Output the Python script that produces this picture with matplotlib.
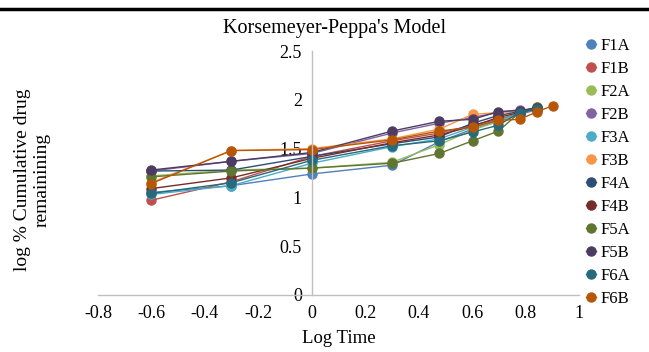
import matplotlib
matplotlib.use("Agg")
import matplotlib.pyplot as plt
from matplotlib.lines import Line2D

plt.rcParams['font.family'] = ['Liberation Serif', 'DejaVu Serif']

# -------------------------------------------------
# Data (log time vs log % cumulative drug remaining)
# -------------------------------------------------
log_time = [-0.602, -0.301, 0.0, 0.301, 0.477, 0.602, 0.699, 0.778, 0.845, 0.903]

series_names = ["F1A", "F1B", "F2A", "F2B", "F3A", "F3B",
                "F4A", "F4B", "F5A", "F5B", "F6A", "F6B"]

f1a = [1.05, 1.12, 1.24, 1.33, 1.57, 1.70, 1.78, 1.85, 1.90]
f1b = [0.97, 1.16, 1.42, 1.58, 1.66, 1.74, 1.80, 1.86, 1.91]
f2a = [1.22, 1.28, 1.30, 1.36, 1.54, 1.69, 1.78, 1.86, 1.93]
f2b = [1.27, 1.37, 1.45, 1.66, 1.76, 1.82, 1.87, 1.90]
f3a = [1.03, 1.12, 1.35, 1.52, 1.60, 1.72, 1.79, 1.86, 1.91]
f3b = [1.15, 1.48, 1.50, 1.60, 1.70, 1.85, 1.87, 1.88, 1.92]
f4a = [1.27, 1.28, 1.42, 1.55, 1.62, 1.76, 1.84, 1.88, 1.92]
f4b = [1.09, 1.20, 1.40, 1.56, 1.64, 1.73, 1.82, 1.87, 1.91]
f5a = [1.21, 1.27, 1.30, 1.35, 1.45, 1.58, 1.68, 1.87, 1.93]
f5b = [1.28, 1.37, 1.46, 1.68, 1.78, 1.80, 1.88, 1.89, 1.92]
f6a = [1.04, 1.15, 1.38, 1.53, 1.58, 1.67, 1.74, 1.87, 1.91]
f6b = [1.14, 1.48, 1.49, 1.59, 1.68, 1.72, 1.79, 1.80, 1.88, 1.94]

all_series = [f1a, f1b, f2a, f2b, f3a, f3b, f4a, f4b, f5a, f5b, f6a, f6b]

colors = ["#4F81BD", "#C0504D", "#9BBB59", "#8064A2", "#4BACC6", "#F79646",
          "#2C4D75", "#772C2A", "#5F7530", "#4D3B62", "#276A7C", "#B65708"]

x_ticks = [-0.8, -0.6, -0.4, -0.2, 0, 0.2, 0.4, 0.6, 0.8, 1]
x_tick_labels = ["-0.8", "-0.6", "-0.4", "-0.2", "0", "0.2", "0.4", "0.6", "0.8", "1"]
y_ticks = [0, 0.5, 1, 1.5, 2, 2.5]
y_tick_labels = ["0", "0.5", "1", "1.5", "2", "2.5"]

# -------------------------------------------------
# Plot
# -------------------------------------------------
fig = plt.figure(figsize=(6.49, 3.52), dpi=100)
ax = fig.add_axes([0.151, 0.162, 0.741, 0.693])

for name, vals, c in zip(series_names, all_series, colors):
    ax.plot(log_time[:len(vals)], vals, '-o', color=c, lw=1.0,
            markersize=6.5, label=name)

ax.set_xlim(-0.8, 1)
ax.set_ylim(0, 2.5)
ax.set_xticks(x_ticks)
ax.set_xticklabels(x_tick_labels)
ax.set_yticks(y_ticks)
ax.set_yticklabels(y_tick_labels)

# Excel-style crossing axes
ax.spines['left'].set_position(('data', 0))
ax.spines['bottom'].set_position(('data', 0))
ax.spines['right'].set_visible(False)
ax.spines['top'].set_visible(False)
for s in ('left', 'bottom'):
    ax.spines[s].set_color('#BFBFBF')
    ax.spines[s].set_linewidth(1.0)
ax.tick_params(length=0, labelsize=13, pad=7)

fig.text(0.516, 0.92, "Korsemeyer-Peppa's Model", ha='center', va='center',
         fontsize=14.5)
ax.set_xlabel("Log Time", fontsize=13.5, labelpad=6)
fig.text(0.05, 0.49, "log % Cumulative drug\nremainining", rotation=90,
         ha='center', va='center', fontsize=14, linespacing=1.25)

ax.legend(loc='upper left', bbox_to_anchor=(0.99, 1.1), frameon=False,
          fontsize=12, handlelength=0.6, handletextpad=0.3,
          labelspacing=0.42, borderaxespad=0.3)

# thick rule at top of the image
fig.add_artist(Line2D([0, 1], [0.975, 0.975], color='black', lw=2.5,
                      transform=fig.transFigure))

fig.savefig("out.png", dpi=100)
